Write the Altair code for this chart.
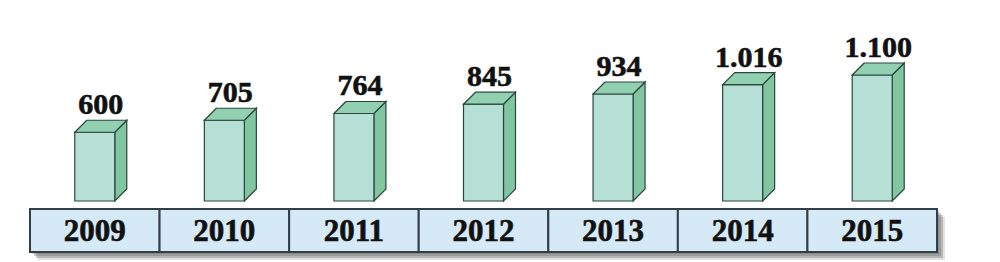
import altair as alt
import pandas as pd

# ---- data ----
years = ["2009", "2010", "2011", "2012", "2013", "2014", "2015"]
values = [600, 705, 764, 845, 934, 1016, 1100]

# ---- layout constants (pixels) ----
W, H = 1000, 262
LEFT_PX, RIGHT_PX = 30, 937
BASE_PX = 201
PX_PER_VAL = 126 / 1100
TABLE_TOP_PX, TABLE_BOT_PX = 209, 252
BAR_W_PX = 40
DEPTH_PX = 12

U = (RIGHT_PX - LEFT_PX) / len(years)
x_dom = [-LEFT_PX / U, (W - LEFT_PX) / U]
y_dom = [(BASE_PX - H) / PX_PER_VAL, BASE_PX / PX_PER_VAL]


def ypx(p):
    return (BASE_PX - p) / PX_PER_VAL


dx = DEPTH_PX / U
dyv = DEPTH_PX / PX_PER_VAL
hw = BAR_W_PX / 2 / U

bars = pd.DataFrame({"year": years, "value": values})
bars["i"] = range(len(years))
bars["x0"] = bars["i"] + 0.5 - hw
bars["x1"] = bars["i"] + 0.5 + hw
bars["lx"] = bars["i"] + 0.5 + dx / 2
bars["ly"] = bars["value"] + dyv
bars["zero"] = 0
bars["label"] = [f"{v:,}".replace(",", ".") for v in values]

side_rows, top_rows = [], []
for _, r in bars.iterrows():
    side_rows.append({"year": r.year, "x": r.x1, "lo": 0.0, "hi": r.value})
    side_rows.append({"year": r.year, "x": r.x1 + dx, "lo": dyv, "hi": r.value + dyv})
    top_rows.append({"year": r.year, "y": r.value, "lo": r.x0, "hi": r.x1})
    top_rows.append({"year": r.year, "y": r.value + dyv, "lo": r.x0 + dx, "hi": r.x1 + dx})
side = pd.DataFrame(side_rows)
top = pd.DataFrame(top_rows)

table = pd.DataFrame({"year": years})
table["a"] = range(len(years))
table["b"] = table["a"] + 1
table["mid"] = table["a"] + 0.5
table["yt"] = ypx(TABLE_TOP_PX)
table["yb"] = ypx(TABLE_BOT_PX)
table["ym"] = ypx((TABLE_TOP_PX + TABLE_BOT_PX) / 2)

# soft drop shadow, shifted a few pixels right/down
shadow_rows = []
for off, op in [(2, 0.3), (4, 0.35), (6, 0.35), (8, 0.2)]:
    shadow_rows.append({"a": off / U, "b": len(years) + off / U,
                        "yt": ypx(TABLE_TOP_PX + off), "yb": ypx(TABLE_BOT_PX + off), "op": op})
shadow = pd.DataFrame(shadow_rows)

xs = alt.Scale(domain=x_dom, nice=False, zero=False)
ys = alt.Scale(domain=y_dom, nice=False, zero=False)

FONT = "Liberation Serif"
EDGE = "#2a463c"

shadow_layer = alt.Chart(shadow).mark_rect(color="#6a6a6a").encode(
    x=alt.X("a:Q", scale=xs, axis=None), x2="b:Q",
    y=alt.Y("yt:Q", scale=ys, axis=None), y2="yb:Q",
    opacity=alt.Opacity("op:Q", scale=None, legend=None))

cells = alt.Chart(table).mark_rect(fill="#d5e9f7", stroke="#333f47", strokeWidth=2).encode(
    x=alt.X("a:Q", scale=xs, axis=None), x2="b:Q",
    y=alt.Y("yt:Q", scale=ys, axis=None), y2="yb:Q")

year_text = alt.Chart(table).mark_text(font=FONT, fontWeight="bold", fontSize=31,
                                       baseline="middle", dy=1, color="#111111",
                                       stroke="#111111", strokeWidth=0.6).encode(
    x=alt.X("mid:Q", scale=xs, axis=None), y=alt.Y("ym:Q", scale=ys, axis=None), text="year:N")

front = alt.Chart(bars).mark_rect(fill="#b6e0d5", stroke=EDGE, strokeWidth=1.2).encode(
    x=alt.X("x0:Q", scale=xs, axis=None), x2="x1:Q",
    y=alt.Y("zero:Q", scale=ys, axis=None), y2="value:Q")

side_face = alt.Chart(side).mark_area(fill="#82c6a1", stroke=EDGE, strokeWidth=1.2,
                                      strokeJoin="miter").encode(
    x=alt.X("x:Q", scale=xs, axis=None),
    y=alt.Y("hi:Q", scale=ys, axis=None), y2="lo:Q", detail="year:N")

top_face = alt.Chart(top).mark_area(orient="horizontal", fill="#91d0b0", stroke=EDGE,
                                    strokeWidth=1.2, strokeJoin="miter").encode(
    y=alt.Y("y:Q", scale=ys, axis=None),
    x=alt.X("lo:Q", scale=xs, axis=None), x2="hi:Q", detail="year:N")

labels = alt.Chart(bars).mark_text(font=FONT, fontWeight="bold", fontSize=30,
                                   baseline="alphabetic", dy=-6, color="#111111",
                                   stroke="#111111", strokeWidth=0.6).encode(
    x=alt.X("lx:Q", scale=xs, axis=None), y=alt.Y("ly:Q", scale=ys, axis=None), text="label:N")

chart = alt.layer(shadow_layer, cells, year_text, side_face, front, top_face, labels).properties(
    width=W, height=H, autosize=alt.AutoSizeParams(type="none"), padding=0,
    background="#ffffff"
).configure_view(stroke=None)

chart.save("out.html", embed_options={"renderer": "svg", "actions": False})
